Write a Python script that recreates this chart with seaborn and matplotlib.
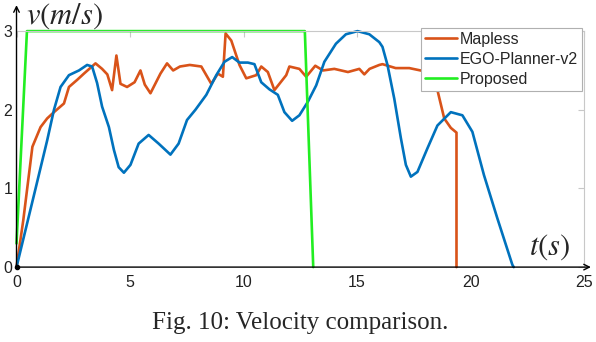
import numpy as np
import pandas as pd
import matplotlib
matplotlib.use("Agg")
import matplotlib.pyplot as plt
import seaborn as sns

# ---- data ----
proposed_t = [0.0, 0.46, 12.7, 13.07]
proposed_v = [0.3, 3.0, 3.0, 0.0]

mapless_t = [0.0, 0.3, 0.48, 0.7, 1.06, 1.35, 1.65, 2.09, 2.31, 2.67, 2.97, 3.48,
             3.77, 4.0, 4.21, 4.4, 4.58, 4.87, 5.2, 5.46, 5.65, 5.9, 6.34, 6.63,
             6.9, 7.2, 7.63, 8.14, 8.58, 8.87, 9.09, 9.21, 9.46, 9.82, 10.12,
             10.56, 10.78, 11.07, 11.36, 11.58, 11.88, 12.02, 12.46, 12.76, 13.16,
             13.5, 14.0, 14.6, 15.1, 15.32, 15.55, 15.98, 16.12, 16.7, 17.3, 17.96,
             18.3, 18.54, 18.84, 19.13, 19.38, 19.38]
mapless_v = [0.0, 0.6, 1.02, 1.53, 1.78, 1.89, 1.97, 2.08, 2.29, 2.38, 2.46, 2.59,
             2.52, 2.45, 2.25, 2.69, 2.33, 2.29, 2.35, 2.5, 2.32, 2.21, 2.46, 2.59,
             2.5, 2.55, 2.57, 2.55, 2.33, 2.46, 2.42, 2.97, 2.88, 2.57, 2.4,
             2.44, 2.55, 2.48, 2.25, 2.33, 2.44, 2.55, 2.52, 2.42, 2.56,
             2.5, 2.52, 2.48, 2.52, 2.45, 2.52, 2.57, 2.58, 2.53, 2.53, 2.49,
             2.45, 2.25, 1.89, 1.77, 1.71, 0.0]

ego_t = [0.0, 0.84, 1.35, 1.65, 1.94, 2.31, 2.75, 3.11, 3.33, 3.55, 3.77, 4.07,
         4.29, 4.5, 4.73, 5.02, 5.38, 5.82, 6.26, 6.78, 7.14, 7.51, 7.88, 8.36,
         8.8, 9.16, 9.5, 9.82, 10.19, 10.48, 10.78, 11.14, 11.51, 11.8, 12.14,
         12.46, 12.83, 13.2, 13.56, 14.07, 14.51, 15.02, 15.54, 15.98, 16.12,
         16.34, 16.64, 16.93, 17.15, 17.37, 17.66, 18.1, 18.54, 19.13, 19.64,
         20.08, 20.59, 21.18, 21.84, 21.9]
ego_v = [0.0, 1.0, 1.61, 2.0, 2.29, 2.44, 2.5, 2.57, 2.55, 2.34, 2.04, 1.78,
         1.49, 1.27, 1.2, 1.3, 1.57, 1.68, 1.57, 1.43, 1.57, 1.87, 2.0, 2.19,
         2.44, 2.61, 2.67, 2.6, 2.6, 2.58, 2.35, 2.26, 2.19, 1.97, 1.86,
         1.93, 2.1, 2.31, 2.61, 2.84, 2.96, 3.0, 2.96, 2.86, 2.8,
         2.57, 2.14, 1.64, 1.3, 1.15, 1.21, 1.51, 1.8, 1.97, 1.93,
         1.72, 1.17, 0.62, 0.03, 0.0]

series = [("Mapless", mapless_t, mapless_v, "#D95319"),
          ("EGO-Planner-v2", ego_t, ego_v, "#0072BD"),
          ("Proposed", proposed_t, proposed_v, "#22EE22")]

sns.set_style("white")
plt.rcParams["font.family"] = ["Liberation Sans", "DejaVu Sans"]
plt.rcParams["mathtext.fontset"] = "stix"

fig = plt.figure(figsize=(5.96, 3.42), dpi=100)
ax = fig.add_axes([0.0277, 0.219, 0.9523, 0.690])

for name, t, v, c in series:
    df = pd.DataFrame({"t": t, "v": v})
    sns.lineplot(data=df, x="t", y="v", ax=ax, color=c, lw=1.9, label=name,
                 sort=False, estimator=None, clip_on=False)

ax.set_xlim(0, 25)
ax.set_ylim(0, 3)
ax.set_xticks([0, 5, 10, 15, 20, 25])
ax.set_yticks([0, 1, 2, 3])
ax.set_xlabel("")
ax.set_ylabel("")
ax.tick_params(axis="both", direction="in", length=4, color="#c8c8c8",
               labelsize=11.5, labelcolor="#222222", top=True, right=True)
ax.tick_params(axis="x", pad=6)
ax.tick_params(axis="y", pad=3)

for s in ["top", "right"]:
    ax.spines[s].set_color("#c8c8c8")
    ax.spines[s].set_linewidth(0.8)
for s in ["left", "bottom"]:
    ax.spines[s].set_visible(False)

# axis arrows
ax.annotate("", xy=(1.012, 0), xytext=(0, 0), xycoords="axes fraction",
            arrowprops=dict(arrowstyle="->", color="black", lw=1.0, shrinkA=0, shrinkB=0))
ax.annotate("", xy=(0, 1.11), xytext=(0, 0), xycoords="axes fraction",
            arrowprops=dict(arrowstyle="->", color="black", lw=1.0, shrinkA=0, shrinkB=0))
ax.plot([0], [0], "o", color="black", ms=3, clip_on=False, zorder=5)

ax.text(0.016, 1.0, r"$v(m/s)$", transform=ax.transAxes, fontsize=22,
        ha="left", va="bottom")
ax.text(0.903, 0.02, r"$t(s)$", transform=ax.transAxes, fontsize=22,
        ha="left", va="bottom")

leg = ax.legend(loc="upper right", bbox_to_anchor=(0.9965, 1.015), fontsize=11.5,
                frameon=True, fancybox=False, framealpha=1, edgecolor="#b0b0b0",
                handlelength=2.0, handletextpad=0.2, borderpad=0.25,
                labelspacing=0.32, borderaxespad=0)
leg.get_frame().set_linewidth(0.8)
leg.set_zorder(10)

fig.text(0.503, 0.038, "Fig. 10: Velocity comparison.", ha="center", va="baseline",
         fontsize=18, family=["Liberation Serif", "DejaVu Serif"])

fig.savefig("out.png", dpi=100)
